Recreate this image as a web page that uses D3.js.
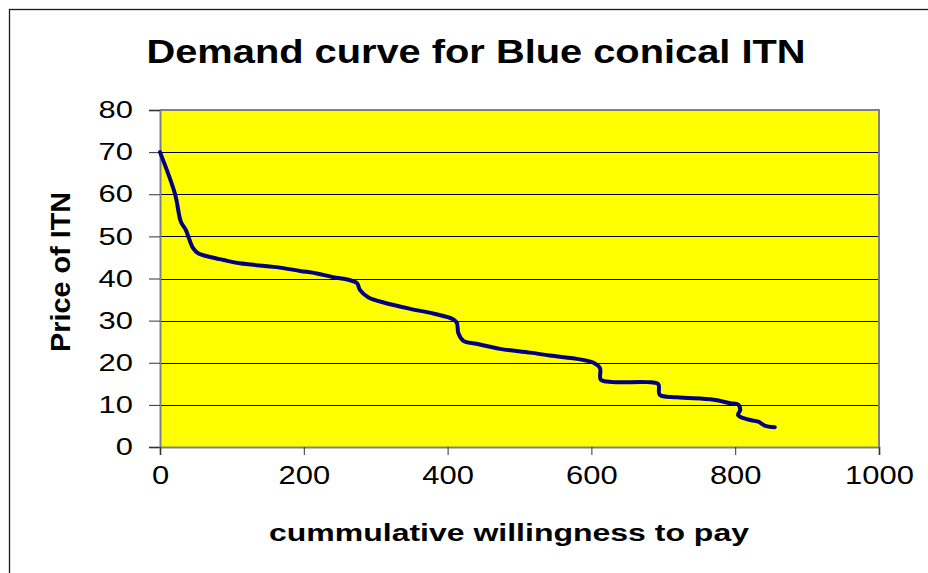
<!DOCTYPE html>
<html>
<head>
<meta charset="utf-8">
<script src="https://cdn.jsdelivr.net/npm/d3@7"></script>
<style>
  html, body { margin: 0; padding: 0; background: #fff; }
  svg { display: block; font-family: "Liberation Sans", Arial, sans-serif; }
</style>
</head>
<body>
<svg id="chart" width="928" height="573"></svg>
<script>
// Cumulative willingness to pay (number of buyers) against price of the ITN
const quantity = [0, 21, 29, 36, 46, 53, 70, 88, 111, 162, 195, 218, 241, 262, 274, 278, 290, 311, 348, 380,
  408, 413, 415, 422, 440, 473, 515, 542, 584, 603, 612, 613, 630, 677, 693, 695, 719, 770, 793, 804,
  807, 804, 816, 832, 841, 855];
const price = [70, 60, 53.5, 51.5, 47.2, 46, 45.1, 44.4, 43.6, 42.7, 41.8, 41.2, 40.3, 39.7, 38.9, 37.3, 35.5, 34.3, 32.8, 31.7,
  30.3, 29.4, 27, 25.2, 24.5, 23.3, 22.4, 21.7, 20.8, 20, 18.7, 16, 15.4, 15.4, 14.9, 12.4, 11.8, 11.2, 10.4, 10.1,
  8.8, 7.6, 6.6, 6, 5.1, 4.7];
const xTicks = [0, 200, 400, 600, 800, 1000];
const yTicks = [0, 10, 20, 30, 40, 50, 60, 70, 80];

const titleText = "Demand curve for Blue conical ITN";
const xTitle = "cummulative willingness to pay";
const yTitle = "Price of ITN";

const svg = d3.select("#chart");
const plot = { left: 160, right: 879, top: 110, bottom: 447 };
const digitW = 17.2; // widened digits of the tick labels

const x = d3.scaleLinear().domain([0, 1000]).range([plot.left, plot.right]);
const y = d3.scaleLinear().domain([0, 80]).range([plot.bottom, plot.top]);

// outer chart frame (runs off the right and bottom edges)
svg.append("rect")
  .attr("x", 9.5).attr("y", 9.5)
  .attr("width", 1000).attr("height", 700)
  .attr("fill", "#fff").attr("stroke", "#1a1a1a").attr("stroke-width", 1.3);

// plot area background
svg.append("rect")
  .attr("x", plot.left).attr("y", plot.top)
  .attr("width", plot.right - plot.left).attr("height", plot.bottom - plot.top)
  .attr("fill", "#ffff00");

// horizontal gridlines
svg.append("g")
  .selectAll("line")
  .data(yTicks.filter(t => t > 0 && t < 80))
  .join("line")
  .attr("x1", plot.left).attr("x2", plot.right)
  .attr("y1", d => Math.round(y(d)) + 0.5).attr("y2", d => Math.round(y(d)) + 0.5)
  .attr("stroke", "#000").attr("stroke-width", 1);

// plot area border (top and right)
svg.append("path")
  .attr("d", `M${plot.left},${plot.top}H${plot.right}V${plot.bottom}`)
  .attr("fill", "none").attr("stroke", "#808080").attr("stroke-width", 2);

// y axis
const yAxis = d3.axisLeft(y).tickValues(yTicks).tickSize(11).tickPadding(16).tickFormat(d3.format("d"));
const gy = svg.append("g").attr("transform", `translate(${plot.left},0)`).call(yAxis);
gy.select(".domain").attr("stroke", "#808080").attr("stroke-width", 2);
gy.selectAll(".tick line").attr("stroke", "#333");
gy.selectAll(".tick text")
  .attr("font-size", 24).attr("fill", "#000")
  .attr("font-family", "Liberation Sans, Arial, sans-serif")
  .attr("textLength", d => String(d).length * digitW)
  .attr("lengthAdjust", "spacingAndGlyphs");

// x axis
const xAxis = d3.axisBottom(x).tickValues(xTicks).tickSize(8).tickPadding(11).tickFormat(d3.format("d"));
const gx = svg.append("g").attr("transform", `translate(0,${plot.bottom})`).call(xAxis);
gx.select(".domain").attr("stroke", "#808080").attr("stroke-width", 2);
gx.selectAll(".tick line").attr("stroke", "#333");
gx.selectAll(".tick text")
  .attr("font-size", 25).attr("fill", "#000")
  .attr("font-family", "Liberation Sans, Arial, sans-serif")
  .attr("textLength", d => String(d).length * digitW)
  .attr("lengthAdjust", "spacingAndGlyphs");

// demand curve
const pts = quantity.map((q, i) => [q, price[i]]);
const line = d3.line()
  .x(d => x(d[0]))
  .y(d => y(d[1]))
  .curve(d3.curveCatmullRom.alpha(0.5));

svg.append("path")
  .datum(pts)
  .attr("d", line)
  .attr("fill", "none")
  .attr("stroke", "#000080")
  .attr("stroke-width", 4)
  .attr("stroke-linejoin", "round")
  .attr("stroke-linecap", "round");

// title
svg.append("text")
  .attr("x", 476).attr("y", 63)
  .attr("text-anchor", "middle")
  .attr("font-size", 33).attr("font-weight", "bold")
  .attr("textLength", 659).attr("lengthAdjust", "spacingAndGlyphs")
  .text(titleText);

// x axis title
svg.append("text")
  .attr("x", 509).attr("y", 541)
  .attr("text-anchor", "middle")
  .attr("font-size", 23).attr("font-weight", "bold")
  .attr("textLength", 480).attr("lengthAdjust", "spacingAndGlyphs")
  .text(xTitle);

// y axis title
svg.append("text")
  .attr("transform", "translate(70,272) rotate(-90)")
  .attr("text-anchor", "middle")
  .attr("font-size", 28).attr("font-weight", "bold")
  .attr("textLength", 160).attr("lengthAdjust", "spacingAndGlyphs")
  .text(yTitle);
</script>
</body>
</html>
